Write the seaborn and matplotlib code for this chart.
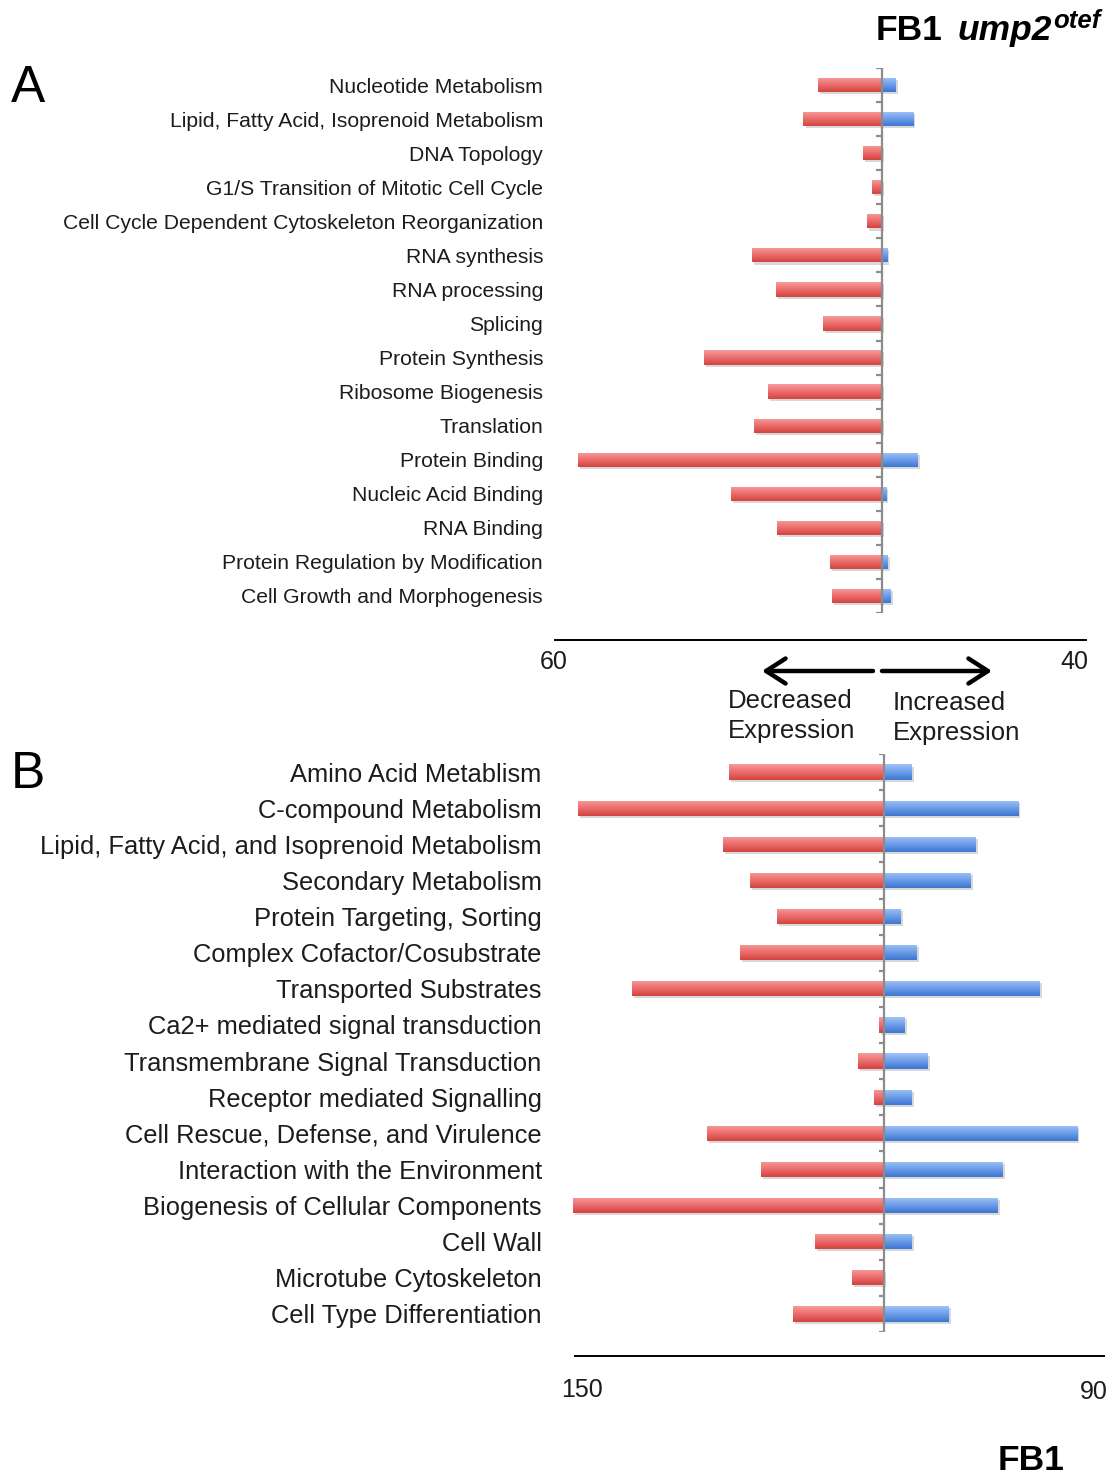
import numpy as np
import pandas as pd
import matplotlib
matplotlib.use("Agg")
import matplotlib.pyplot as plt
import matplotlib.patheffects as pe
from matplotlib.colors import LinearSegmentedColormap
from matplotlib.patches import FancyArrowPatch
import seaborn as sns

# ---- Panel A: functional categories (FB1 ump2 otef) ----
cats_a = [
    "Nucleotide Metabolism",
    "Lipid, Fatty Acid, Isoprenoid Metabolism",
    "DNA Topology",
    "G1/S Transition of Mitotic Cell Cycle",
    "Cell Cycle Dependent Cytoskeleton Reorganization",
    "RNA synthesis",
    "RNA processing",
    "Splicing",
    "Protein Synthesis",
    "Ribosome Biogenesis",
    "Translation",
    "Protein Binding",
    "Nucleic Acid Binding",
    "RNA Binding",
    "Protein Regulation by Modification",
    "Cell Growth and Morphogenesis",
]
decreased_a = [11.8, 14.4, 3.4, 1.8, 2.8, 23.8, 19.4, 10.9, 32.6, 20.9,
               23.5, 55.8, 27.7, 19.2, 9.5, 9.2]
increased_a = [2.5, 5.7, 0.0, 0.0, 0.0, 1.0, 0.0, 0.0, 0.0, 0.0,
               0.0, 6.6, 0.8, 0.0, 1.1, 1.6]

# ---- Panel B: functional categories (FB1) ----
cats_b = [
    "Amino Acid Metablism",
    "C-compound Metabolism",
    "Lipid, Fatty Acid, and Isoprenoid Metabolism",
    "Secondary Metabolism",
    "Protein Targeting, Sorting",
    "Complex Cofactor/Cosubstrate",
    "Transported Substrates",
    "Ca2+ mediated signal transduction",
    "Transmembrane Signal Transduction",
    "Receptor mediated Signalling",
    "Cell Rescue, Defense, and Virulence",
    "Interaction with the Environment",
    "Biogenesis of Cellular Components",
    "Cell Wall",
    "Microtube Cytoskeleton",
    "Cell Type Differentiation",
]
decreased_b = [75.3, 148.7, 78.3, 65.2, 52.0, 69.8, 122.4, 2.5, 12.8, 5.1,
               86.0, 59.8, 150.8, 33.6, 15.8, 44.4]
increased_b = [13.3, 65.0, 44.2, 42.0, 7.8, 15.7, 75.2, 10.1, 21.0, 13.3,
               93.6, 57.4, 54.9, 13.3, 0.0, 31.1]

# axis end labels
end_labels_a = ["60", "40"]
end_labels_b = ["150", "90"]

RED = ("#f79c9c", "#ec6c6c", "#d2443f")
BLUE = ("#a0c2f8", "#6d9de9", "#3c76d0")
TEXT = "#1c1c1c"

sns.set_theme(style="white")
plt.rcParams["font.family"] = ["Liberation Sans", "DejaVu Sans"]

W, H = 1116, 1477
fig = plt.figure(figsize=(W / 100, H / 100), dpi=100)


def px_axes(x0, y0, x1, y1):
    return fig.add_axes([x0 / W, 1 - y1 / H, (x1 - x0) / W, (y1 - y0) / H])


def shade_bars(ax, patches, colors):
    cmap = LinearSegmentedColormap.from_list("g", list(colors))
    grad = np.linspace(0, 1, 64).reshape(-1, 1)
    for p in patches:
        x, y = p.get_x(), p.get_y()
        w, h = p.get_width(), p.get_height()
        if w == 0:
            continue
        p.set_facecolor(colors[1])
        p.set_path_effects([pe.SimplePatchShadow(offset=(1.5, -1.5), shadow_rgbFace="0.5",
                                                 alpha=0.3),
                            pe.Normal()])
        im = ax.imshow(grad, cmap=cmap, aspect="auto",
                       extent=(x, x + w, y + h, y), zorder=p.get_zorder() + 0.1,
                       interpolation="bilinear")
        im.set_clip_path(p)


def panel(ax, cats, dec, inc, xlim, ends, end_off, label_fs, label_pad, spine_out,
          end_fs, tick_len):
    df = pd.DataFrame({"cat": cats, "dec": -np.asarray(dec), "inc": np.asarray(inc)})
    sns.barplot(data=df, x="dec", y="cat", orient="h", color=RED[1], width=0.42,
                saturation=1, ax=ax, linewidth=0)
    n_red = len(ax.patches)
    sns.barplot(data=df, x="inc", y="cat", orient="h", color=BLUE[1], width=0.42,
                saturation=1, ax=ax, linewidth=0)
    shade_bars(ax, ax.patches[:n_red], RED)
    shade_bars(ax, ax.patches[n_red:], BLUE)

    n = len(cats)
    ax.set_xlim(*xlim)
    ax.set_ylim(n - 0.5, -0.5)
    ax.set_xlabel("")
    ax.set_ylabel("")

    # central category axis with boundary ticks
    ax.axvline(0, color="#8c8c8c", lw=1.6, zorder=5)
    bounds = np.arange(n + 1) - 0.5
    ax.hlines(bounds, -tick_len, 0, color="#8c8c8c", lw=1.6, zorder=5)

    for s in ["top", "right", "left"]:
        ax.spines[s].set_visible(False)
    ax.spines["bottom"].set_position(("outward", spine_out))
    ax.spines["bottom"].set_color("black")
    ax.spines["bottom"].set_linewidth(1.4)

    # end labels of the count scale, under each end of the axis line
    ax.set_xticks([])
    for xv, txt, (dx, dy) in zip(xlim, ends, end_off):
        ax.annotate(txt, xy=(xv, 0), xycoords=("data", "axes fraction"),
                    xytext=(dx, dy), textcoords="offset pixels",
                    ha="center", va="center", fontsize=end_fs, color=TEXT,
                    annotation_clip=False)
    ax.tick_params(axis="y", length=0, pad=label_pad, labelsize=label_fs,
                   labelcolor=TEXT)
    ax.grid(False)
    ax.set_facecolor("none")


ax_a = px_axes(555, 68, 1086, 613)
panel(ax_a, cats_a, decreased_a, increased_a, (-60, 37.45), end_labels_a,
      ((-1, -49), (-12, -49)),
      label_fs=15.2, label_pad=8.6, spine_out=19.4, end_fs=18, tick_len=1.0)

ax_b = px_axes(575, 754, 1104, 1332)
panel(ax_b, cats_b, decreased_b, increased_b, (-150, 106.5), end_labels_b,
      ((7, -58), (-10, -60)),
      label_fs=18.4, label_pad=24, spine_out=17.3, end_fs=18, tick_len=2.7)

# panel letters
fig.text(11 / W, 1 - 89 / H, "A", fontsize=37, va="center", ha="left", color="black")
fig.text(11 / W, 1 - 775 / H, "B", fontsize=37, va="center", ha="left", color="black")

# strain headings, placed one after another
renderer = fig.canvas.get_renderer()


def chain_text(x_px, y_px, parts):
    x = x_px
    for txt, size, style, dy, gap in parts:
        t = fig.text(x / W, 1 - (y_px + dy) / H, txt, fontsize=size, fontweight="bold",
                     style=style, va="baseline", ha="left", color="black")
        bb = t.get_window_extent(renderer)
        x = x + bb.width + gap


chain_text(876, 40, [("FB1", 25.5, "normal", 0, 15),
                     ("ump2", 25.5, "italic", 0, 1),
                     ("otef", 18.5, "italic", -12, 0)])
fig.text(998 / W, 1 - 1460 / H, "FB1", fontsize=25.5, fontweight="bold",
         va="center", ha="left", color="black")

# direction arrows
arrow_kw = dict(arrowstyle="->,head_length=0.7,head_width=0.45", lw=3.2, color="black",
                shrinkA=0, shrinkB=0, mutation_scale=20, transform=fig.transFigure)
fig.add_artist(FancyArrowPatch((873 / W, 1 - 671 / H), (762 / W, 1 - 671 / H), **arrow_kw))
fig.add_artist(FancyArrowPatch((882 / W, 1 - 671 / H), (992 / W, 1 - 671 / H), **arrow_kw))
fig.text(728 / W, 1 - 716 / H, "Decreased\nExpression", fontsize=18.5, va="center",
         ha="left", linespacing=1.35, color=TEXT)
fig.text(893 / W, 1 - 718 / H, "Increased\nExpression", fontsize=18.5, va="center",
         ha="left", linespacing=1.35, color=TEXT)

fig.savefig("out.png", dpi=100, facecolor="white")
